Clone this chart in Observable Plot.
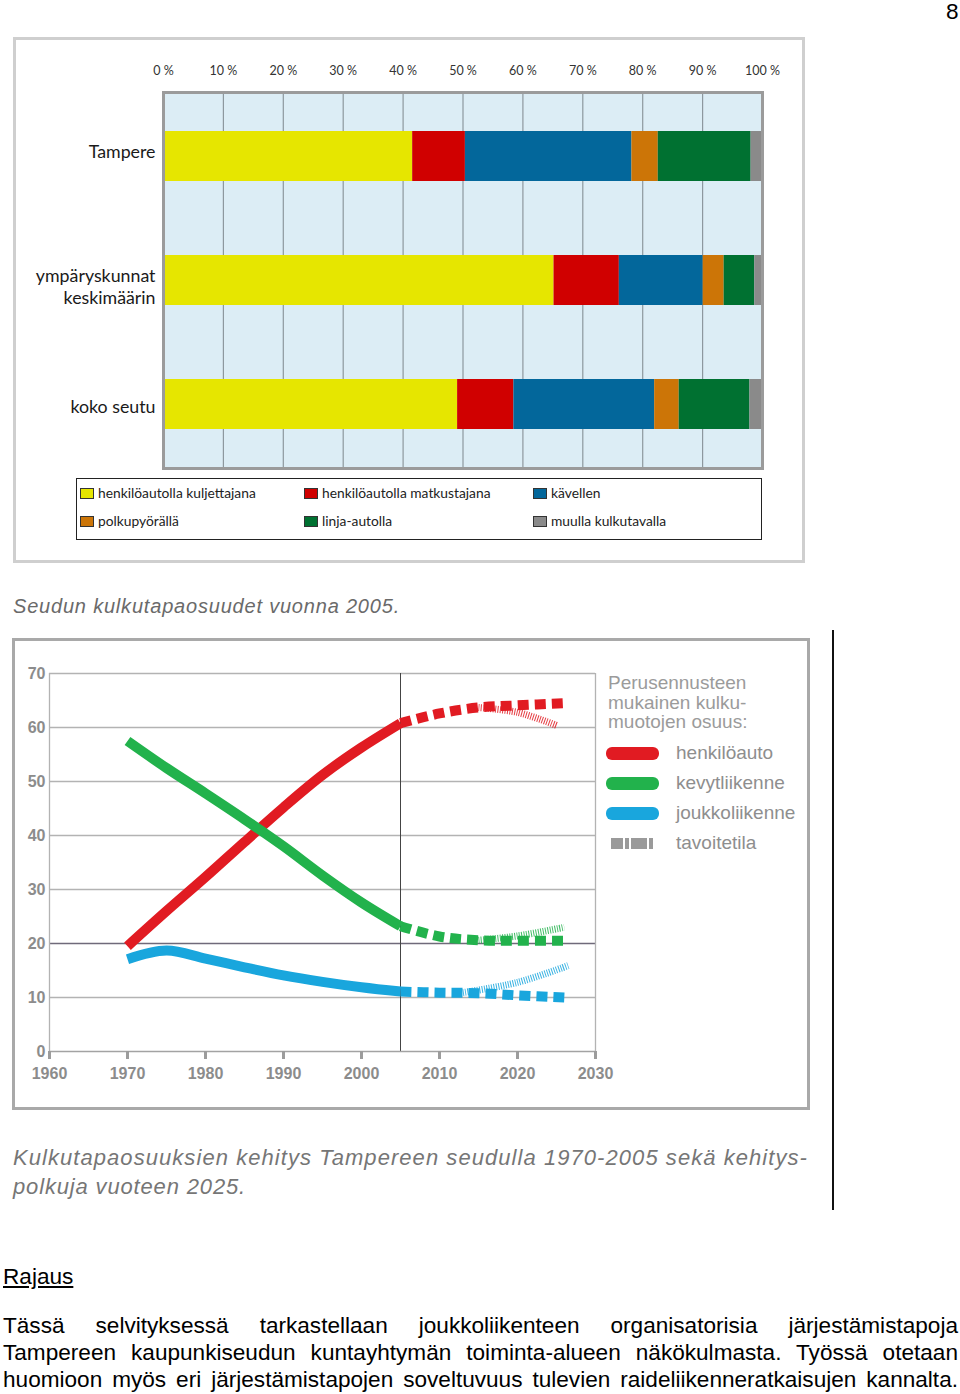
<!DOCTYPE html>
<html><head><meta charset="utf-8">
<script src="https://cdn.jsdelivr.net/npm/d3@7"></script>
<script src="https://cdn.jsdelivr.net/npm/@observablehq/plot@0.6"></script>
<style>
body{margin:0;background:#fff;width:960px;height:1394px;position:relative;overflow:hidden;font-family:"Liberation Sans",Arial,sans-serif;color:#000}
.abs{position:absolute;white-space:nowrap}
.box{position:absolute;box-sizing:border-box;pointer-events:none}
.lg1{position:absolute;font-family:Lato,sans-serif;font-size:13.8px;color:#222;line-height:16px;white-space:nowrap}
.sw1{position:absolute;width:12px;height:9px;border:1px solid #333;box-sizing:content-box}
.lg2{position:absolute;font-family:"Liberation Sans",Arial,sans-serif;font-size:19px;color:#8e8e8e;line-height:20px;white-space:nowrap}
.para{position:absolute;left:3px;width:955px;font-size:22.6px;line-height:27px;text-align:justify;text-align-last:justify;white-space:nowrap}
</style></head><body>
<div class="abs" style="left:946px;top:-2px;font-size:22.6px;line-height:27px">8</div>

<div id="c1" class="abs" style="left:0;top:37px"></div>
<div class="box" style="left:13px;top:37px;width:792px;height:526px;border:3px solid #cfcfcf"></div>
<div class="box" style="left:76px;top:478px;width:686px;height:62px;border:1px solid #222"></div>
<div id="leg1"></div>

<div id="cap1" class="abs" style="left:13px;top:594px;font-size:20px;line-height:24px;font-style:italic;color:#6a6a6a">Seudun kulkutapaosuudet vuonna 2005.</div>

<div id="c2" class="abs" style="left:0;top:640px"></div>
<div class="box" style="left:12px;top:638px;width:798px;height:472px;border:3px solid #a9a9a9"></div>
<div id="leg2"></div>
<div class="box" style="left:832px;top:630px;width:2px;height:580px;background:#111"></div>

<div id="cap2a" class="abs" style="left:13px;top:1143px;font-size:22px;line-height:29px;font-style:italic;color:#767676">Kulkutapaosuuksien kehitys Tampereen seudulla 1970-2005 sekä kehitys-</div>
<div id="cap2b" class="abs" style="left:13px;top:1172px;font-size:22px;line-height:29px;font-style:italic;color:#767676">polkuja vuoteen 2025.</div>

<div class="abs" style="left:3px;top:1263px;font-size:22.6px;line-height:27px;text-decoration:underline">Rajaus</div>
<div class="para" style="top:1312px">Tässä selvityksessä tarkastellaan joukkoliikenteen organisatorisia järjestämistapoja</div>
<div class="para" style="top:1339px">Tampereen kaupunkiseudun kuntayhtymän toiminta-alueen näkökulmasta. Työssä otetaan</div>
<div class="para" style="top:1366px">huomioon myös eri järjestämistapojen soveltuvuus tulevien raideliikenneratkaisujen kannalta.</div>

<script>
// ---------- Chart 1 data ----------
const groups = ["Tampere", "ympäryskunnat keskimäärin", "koko seutu"];
const groupLabels = ["Tampere", "ympäryskunnat\nkeskimäärin", "koko seutu"];
const modes = ["henkilöautolla kuljettajana", "henkilöautolla matkustajana", "kävellen", "polkupyörällä", "linja-autolla", "muulla kulkutavalla"];
const modeColors = ["#e6e600", "#d00000", "#03679b", "#cc7507", "#007131", "#8a8a8a"];
const shareTampere = [41.6, 8.8, 27.8, 4.4, 15.5, 1.9];
const shareYmparys = [65.2, 10.9, 14.0, 3.5, 5.1, 1.3];
const shareKoko = [49.1, 9.4, 23.5, 4.1, 11.8, 2.1];
const pctTicks = [0, 10, 20, 30, 40, 50, 60, 70, 80, 90, 100];

// ---------- Chart 2 data ----------
const histYears = [1970, 1975, 1980, 1985, 1990, 1995, 2000, 2005];
const carHist = [19.5, 26.0, 32.3, 38.8, 45.2, 51.2, 56.3, 60.8];
const walkHist = [57.5, 52.5, 47.8, 43.0, 38.0, 32.6, 27.6, 23.2];
const transitHist = [17.1, 18.7, 17.2, 15.6, 14.1, 12.9, 11.9, 11.1];
const fcYears = [2005, 2010, 2015, 2020, 2026];
const carFc = [60.8, 62.6, 63.7, 64.1, 64.5];
const walkFc = [23.2, 21.3, 20.6, 20.5, 20.5];
const transitFc = [11.1, 10.9, 10.8, 10.4, 10.0];
const carGoalYears = [2015, 2020, 2025];
const carGoal = [63.7, 62.8, 60.4];
const walkGoalYears = [2015, 2020, 2026];
const walkGoal = [20.6, 21.4, 23.0];
const transitGoalYears = [2013, 2020, 2026.5];
const transitGoal = [10.9, 12.8, 15.9];
const yearTicks = [1960, 1970, 1980, 1990, 2000, 2010, 2020, 2030];
const shareTicks = [0, 10, 20, 30, 40, 50, 60, 70];
const seriesNames = ["henkilöauto", "kevytliikenne", "joukkoliikenne"];
const seriesColors = ["#e11b22", "#22b24c", "#19a6dd"];
const goalName = "tavoitetila";
const legendTitle = ["Perusennusteen", "mukainen kulku-", "muotojen osuus:"];

// ---------- Chart 1 ----------
const rows = [];
[shareTampere, shareYmparys, shareKoko].forEach((vals, i) =>
  modes.forEach((m, j) => rows.push({group: groups[i], mode: m, value: vals[j]})));

const labelShift = [-6, 5, 1];
const chart1 = Plot.plot({
  width: 810, height: 433,
  marginLeft: 163, marginRight: 48, marginTop: 55, marginBottom: 2,
  style: {background: "transparent", fontFamily: "Lato, sans-serif", color: "#222", overflow: "visible"},
  x: {domain: [0, 100], label: null},
  y: {domain: groups, paddingInner: 0.6, paddingOuter: 0.31, label: null, axis: null},
  color: {domain: modes, range: modeColors},
  marks: [
    Plot.frame({fill: "#dcedf5", stroke: "none"}),
    Plot.ruleX(pctTicks.slice(1, -1), {stroke: "#8d989e", strokeWidth: 1.2}),
    Plot.barX(rows, Plot.stackX({x: "value", y: "group", fill: "mode"})),
    Plot.frame({stroke: "#9b9b9b", strokeWidth: 3}),
    Plot.axisX({anchor: "top", ticks: pctTicks, tickFormat: d => d + " %", tickSize: 0, tickPadding: 18, fontSize: 12.5, fill: "#333"}),
    ...groups.map((g, i) => Plot.text([g], {y: d => d, text: () => groupLabels[i], frameAnchor: "left", textAnchor: "end",
      dx: -8, dy: labelShift[i], fontSize: 17.8, fill: "#1a1a1a", lineHeight: 1.25}))
  ]
});
document.getElementById("c1").appendChild(chart1);

// chart 1 legend (html, below the svg)
const leg1 = document.getElementById("leg1");
const leg1Cols = [80, 304, 533], leg1Rows = [493, 521];
modes.forEach((m, i) => {
  const cx = leg1Cols[i % 3], cy = leg1Rows[Math.floor(i / 3)];
  const sw = document.createElement("div");
  sw.className = "sw1";
  sw.style.left = cx + "px"; sw.style.top = (cy - 5) + "px"; sw.style.background = modeColors[i];
  leg1.appendChild(sw);
  const t = document.createElement("div");
  t.className = "lg1"; t.textContent = m;
  t.style.left = (cx + 18) + "px"; t.style.top = (cy - 8.5) + "px";
  leg1.appendChild(t);
});

// ---------- Chart 2 ----------
const pts = (years, vals, s) => years.map((y, i) => ({year: y, v: vals[i], s}));
const hist = [carHist, walkHist, transitHist].flatMap((v, i) => pts(histYears, v, seriesNames[i]));
const fc = [carFc, walkFc, transitFc].flatMap((v, i) => pts(fcYears, v, seriesNames[i]));
const goal = [pts(carGoalYears, carGoal, seriesNames[0]), pts(walkGoalYears, walkGoal, seriesNames[1]), pts(transitGoalYears, transitGoal, seriesNames[2])].flat();

const chart2 = Plot.plot({
  width: 810, height: 470,
  marginLeft: 49, marginRight: 215, marginTop: 33, marginBottom: 59,
  style: {background: "transparent", fontFamily: "'Liberation Sans', Arial, sans-serif", overflow: "visible"},
  x: {domain: [1960, 2030], label: null},
  y: {domain: [0, 70], label: null},
  color: {domain: seriesNames, range: seriesColors},
  marks: [
    Plot.ruleY(shareTicks.filter(d => d > 0 && d !== 20), {stroke: "#b3b3b3", strokeWidth: 1.3}),
    Plot.ruleY([20], {stroke: "#6f6a7a", strokeWidth: 1.6}),
    Plot.ruleX([1960, 2030], {stroke: "#b3b3b3", strokeWidth: 1.3}),
    Plot.ruleX([2005], {stroke: "#444", strokeWidth: 1}),
    Plot.ruleY([0], {stroke: "#a3a3a3", strokeWidth: 1.6}),
    Plot.line(goal, {x: "year", y: "v", z: "s", stroke: "s", strokeWidth: 7, strokeOpacity: 0.85, strokeDasharray: "1,1.4", strokeLinecap: "butt", curve: "catmull-rom"}),
    Plot.line(fc, {x: "year", y: "v", z: "s", stroke: "s", strokeWidth: 10, strokeDasharray: "11,6", strokeLinecap: "butt", curve: "catmull-rom"}),
    Plot.line(hist, {x: "year", y: "v", z: "s", stroke: "s", strokeWidth: 10, strokeLinecap: "butt", curve: "catmull-rom"}),
    Plot.axisX({ticks: yearTicks, tickFormat: d => String(d), tickSize: 8, strokeWidth: 3, stroke: "#9c9c9c", fill: "#8c8c8c", fontWeight: "bold", fontSize: 16, tickPadding: 8}),
    Plot.axisY({ticks: shareTicks, tickSize: 0, tickPadding: 4, fill: "#8c8c8c", fontWeight: "bold", fontSize: 16})
  ]
});
document.getElementById("c2").appendChild(chart2);

// chart 2 legend
const leg2 = document.getElementById("leg2");
legendTitle.forEach((line, i) => {
  const t = document.createElement("div");
  t.className = "lg2"; t.textContent = line;
  t.style.left = "608px"; t.style.top = (673 + i * 19.5) + "px"; t.style.color = "#9b9b9b";
  leg2.appendChild(t);
});
const leg2Rows = [753, 783, 813, 843];
[...seriesNames, goalName].forEach((name, i) => {
  const cy = leg2Rows[i];
  const sw = document.createElement("div");
  sw.style.position = "absolute";
  if (i < 3) {
    sw.style.left = "606px"; sw.style.width = "53px"; sw.style.height = "13px";
    sw.style.top = (cy - 6.5) + "px"; sw.style.borderRadius = "6px"; sw.style.background = seriesColors[i];
  } else {
    sw.style.left = "611px"; sw.style.width = "42px"; sw.style.height = "11px"; sw.style.top = (cy - 5.5) + "px";
    sw.style.background = "linear-gradient(90deg,#9a9a9a 0 12px,#fff 12px 14px,#9a9a9a 14px 18px,#fff 18px 20px,#9a9a9a 20px 36px,#fff 36px 38px,#9a9a9a 38px)";
  }
  leg2.appendChild(sw);
  const t = document.createElement("div");
  t.className = "lg2"; t.textContent = name;
  t.style.left = "676px"; t.style.top = (cy - 10) + "px";
  leg2.appendChild(t);
});

// fit caption widths to the reference
function fit(el, target) {
  const w = el.getBoundingClientRect().width;
  el.style.letterSpacing = ((target - w) / el.textContent.length) + "px";
}
fit(document.getElementById("cap1"), 387);
fit(document.getElementById("cap2a"), 795);
fit(document.getElementById("cap2b"), 233);
// keep justified lines inside the page width
document.querySelectorAll(".para").forEach(p => {
  const s = document.createElement("span");
  s.textContent = p.textContent; s.style.whiteSpace = "nowrap";
  p.textContent = ""; p.appendChild(s);
  const w = s.getBoundingClientRect().width;
  if (w > 955) p.style.letterSpacing = ((955 - w) / s.textContent.length) + "px";
  p.textContent = s.textContent;
});
</script>
</body></html>
